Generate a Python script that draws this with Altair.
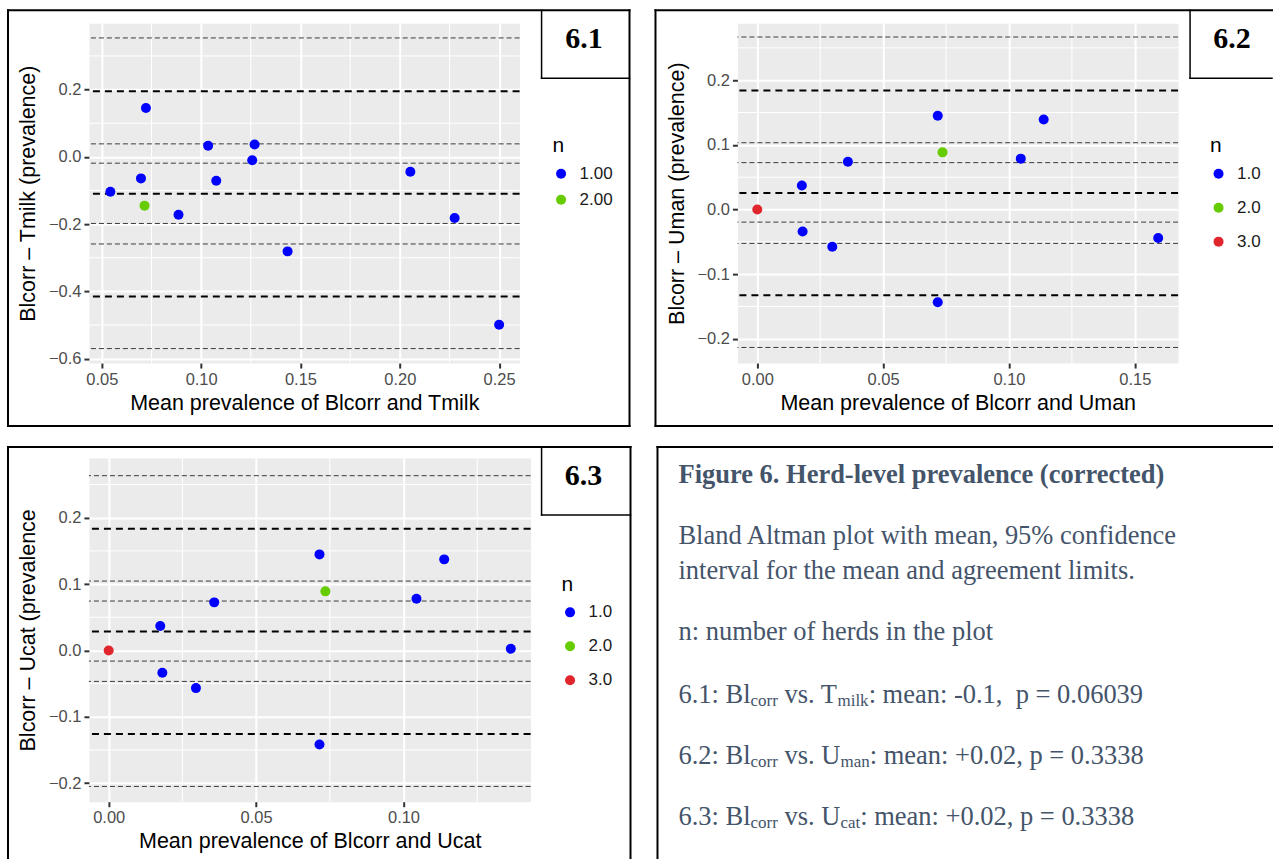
import altair as alt
import pandas as pd

# ---------------- data ----------------
# 6.1  Blcorr vs Tmilk
p1_x = [0.0543, 0.0722, 0.0697, 0.0715, 0.0886, 0.1035, 0.1076, 0.1257, 0.1269, 0.1435, 0.2053, 0.2276, 0.2500]
p1_y = [-0.104, 0.145, -0.064, -0.145, -0.172, 0.033, -0.071, -0.010, 0.037, -0.281, -0.044, -0.182, -0.499]
p1_n = ["1.00", "1.00", "1.00", "2.00", "1.00", "1.00", "1.00", "1.00", "1.00", "1.00", "1.00", "1.00", "1.00"]
p1_limits = [0.195, -0.110, -0.415]                          # mean and agreement limits
p1_ci = [0.3535, 0.0386, -0.0188, -0.198, -0.259, -0.570]    # 95% CI bounds

# 6.2  Blcorr vs Uman
p2_x = [0.0, 0.0177, 0.0180, 0.0298, 0.0360, 0.0717, 0.0736, 0.0717, 0.1047, 0.1138, 0.1593]
p2_y = [0.0, 0.037, -0.034, -0.0576, 0.074, 0.145, 0.0884, -0.1434, 0.0787, 0.1393, -0.0442]
p2_n = ["3.0", "1.0", "1.0", "1.0", "1.0", "1.0", "2.0", "1.0", "1.0", "1.0", "1.0"]
p2_limits = [0.184, 0.0257, -0.1326]
p2_ci = [0.2668, 0.1033, 0.0725, -0.0195, -0.0524, -0.2134]

# 6.3  Blcorr vs Ucat
p3_x = [0.0, 0.0175, 0.0182, 0.0296, 0.0358, 0.0715, 0.0735, 0.0715, 0.1044, 0.1138, 0.1364]
p3_y = [0.0, 0.0367, -0.0337, -0.0568, 0.0724, 0.1447, 0.0890, -0.1417, 0.0779, 0.1372, 0.0025]
p3_n = ["3.0", "1.0", "1.0", "1.0", "1.0", "1.0", "2.0", "1.0", "1.0", "1.0", "1.0"]
p3_limits = [0.1834, 0.0286, -0.1261]
p3_ci = [0.2633, 0.1045, 0.0744, -0.0161, -0.0467, -0.205]

# tick labels / gridlines
p1_xticks = [0.05, 0.10, 0.15, 0.20, 0.25]
p1_yticks = [-0.6, -0.4, -0.2, 0.0, 0.2]
p1_xminor = [0.075, 0.125, 0.175, 0.225]
p1_yminor = [-0.5, -0.3, -0.1, 0.1, 0.3]
p23_yticks = [-0.2, -0.1, 0.0, 0.1, 0.2]
p23_yminor = [-0.15, -0.05, 0.05, 0.15, 0.25]
p2_xticks = [0.0, 0.05, 0.10, 0.15]
p3_xticks = [0.0, 0.05, 0.10]
p23_xminor = [0.025, 0.075, 0.125]

# text panel
fig_title = "Figure 6. Herd-level prevalence (corrected)"
body_lines = ["Bland Altman plot with mean, 95% confidence",
              "interval for the mean and agreement limits.",
              "n: number of herds in the plot"]
stat_lines = [
    [("6.1: Bl", "m"), ("corr", "s"), (" vs. T", "m"), ("milk", "s"), (": mean: -0.1,\u00a0 p = 0.06039", "m")],
    [("6.2: Bl", "m"), ("corr", "s"), (" vs. U", "m"), ("man", "s"), (": mean: +0.02, p = 0.3338", "m")],
    [("6.3: Bl", "m"), ("corr", "s"), (" vs. U", "m"), ("cat", "s"), (": mean: +0.02, p = 0.3338", "m")],
]

# ---------------- style ----------------
BLUE, GREEN, RED = "#0000FF", "#66CC00", "#E0262C"
SANS = "Liberation Sans"
SERIF = "Liberation Serif"
TXT = "#44546A"


def seg(x1, x2, y1, y2, sw=2.0):
    return alt.Chart(pd.DataFrame({"k": [0]})).mark_rule(
        color="black", strokeWidth=sw, strokeCap="square"
    ).encode(x=alt.value(x1), x2=alt.value(x2), y=alt.value(y1), y2=alt.value(y2))


def panel(xs, ys, ns, n_dom, n_rng, limits, ci, xdom, ydom, xticks, yticks, xminor, yminor,
          xtitle, ytitle, w, h, leg_x, leg_y, row_pad, label, lab_x, lab_y, decor):
    xsc = alt.Scale(domain=xdom, nice=False, zero=False)
    ysc = alt.Scale(domain=ydom, nice=False, zero=False)
    xax = alt.Axis(values=xticks, format=".2f", title=xtitle, titleY=40, titleBaseline="middle",
                   labelFlush=False, labelPadding=3)
    yax = alt.Axis(values=yticks, format=".1f", title=ytitle, titleX=-60, titleY=h / 2,
                   titleAngle=270, titleAlign="center", titleBaseline="middle", labelPadding=3)

    def X(f):
        return alt.X(f, type="quantitative", scale=xsc, axis=xax)

    def Y(f):
        return alt.Y(f, type="quantitative", scale=ysc, axis=yax)

    layers = [
        alt.Chart(pd.DataFrame({"v": xminor})).mark_rule(color="white", strokeWidth=1).encode(x=X("v")),
        alt.Chart(pd.DataFrame({"v": yminor})).mark_rule(color="white", strokeWidth=1).encode(y=Y("v")),
        alt.Chart(pd.DataFrame({"v": ci})).mark_rule(color="#3A3A3A", strokeWidth=1, strokeDash=[5, 3]).encode(y=Y("v")),
        alt.Chart(pd.DataFrame({"v": limits})).mark_rule(color="black", strokeWidth=2, strokeDash=[7, 5]).encode(y=Y("v")),
        alt.Chart(pd.DataFrame({"x": xs, "y": ys, "n": ns})).mark_circle(size=100, opacity=1).encode(
            x=X("x"), y=Y("y"),
            color=alt.Color("n:N", scale=alt.Scale(domain=n_dom, range=n_rng),
                            legend=alt.Legend(title="n", orient="none", legendX=leg_x, legendY=leg_y,
                                              rowPadding=row_pad, direction="vertical"))),
    ]
    for d in decor:
        layers.append(seg(*d))
    layers.append(
        alt.Chart(pd.DataFrame({"t": [label]})).mark_text(
            font=SERIF, fontWeight="bold", fontSize=30, align="center", baseline="alphabetic", color="black"
        ).encode(x=alt.value(lab_x), y=alt.value(lab_y), text="t:N")
    )
    return alt.layer(*layers).properties(
        width=w, height=h, view=alt.ViewBackground(fill="#EBEBEB", stroke="transparent"))


p1 = panel(p1_x, p1_y, p1_n, ["1.00", "2.00"], [BLUE, GREEN], p1_limits, p1_ci,
           [0.0435, 0.2603], [-0.613, 0.397], p1_xticks, p1_yticks, p1_xminor, p1_yminor,
           "Mean prevalence of Blcorr and Tmilk", "Blcorr \u2013 Tmilk (prevalence)",
           431, 340, 464, 112, 8, "6.1", 495.5, 25,
           [(-81, 541, -13, -13), (-81, -81, -13, 403), (541, 541, -13, 403), (-81, 541, 403, 403),
            (453, 453, -13, 55, 1.5), (453, 541, 55, 55, 1.5)])

p2 = panel(p2_x, p2_y, p2_n, ["1.0", "2.0", "3.0"], [BLUE, GREEN, RED], p2_limits, p2_ci,
           [-0.0079, 0.1672], [-0.2375, 0.288], p2_xticks, p23_yticks, p23_xminor, p23_yminor,
           "Mean prevalence of Blcorr and Uman", "Blcorr \u2013 Uman (prevalence)",
           441, 340, 473, 112, 16, "6.2", 495, 25,
           [(-82, 535, -13, -13), (-82, -82, -13, 403), (-82, 535, 403, 403),
            (453, 453, -13, 55, 1.5), (453, 535, 55, 55, 1.5)])

p3 = panel(p3_x, p3_y, p3_n, ["1.0", "2.0", "3.0"], [BLUE, GREEN, RED], p3_limits, p3_ci,
           [-0.0067, 0.1431], [-0.228, 0.290], p3_xticks, p23_yticks, p23_xminor, p23_yminor,
           "Mean prevalence of Blcorr and Ucat", "Blcorr \u2013 Ucat (prevalence",
           442, 344, 473, 116, 16, "6.3", 495, 27,
           [(-81, 542, -11, -11), (-81, -81, -11, 401), (542, 542, -11, 401),
            (453, 453, -11, 57, 1.5), (453, 542, 57, 57, 1.5)])

# ---------------- text panel ----------------
TW = {" ": 250, "\u00a0": 250, ".": 250, ":": 278, ",": 250, "-": 333, "+": 564, "=": 564,
      "B": 667, "T": 611, "U": 722, "l": 278, "c": 444, "o": 500, "r": 333, "v": 500, "s": 389,
      "m": 778, "i": 278, "k": 500, "e": 444, "a": 444, "n": 500, "p": 500, "t": 278}


def tw(s, fs):
    return sum(TW.get(c, 500) for c in s) / 1000.0 * fs


# the text panel cell starts 80 px right of its drawn border (grid column position)
OFF = -80
FS_MAIN, FS_SUB = 26.5, 17
X0 = OFF + 21
body_base = [86, 121, 182]
stat_base = [245, 306, 367]

main_rows, sub_rows = [], []
for t, b in zip(body_lines, body_base):
    main_rows.append({"t": t, "x": X0, "y": b})
for segs, b in zip(stat_lines, stat_base):
    cx = X0
    for t, kind in segs:
        fs = FS_MAIN if kind == "m" else FS_SUB
        lead = len(t) - len(t.lstrip(" "))
        shown = t.lstrip(" ")
        row = {"t": shown, "x": cx + tw(" " * lead, fs), "y": b if kind == "m" else b + 3}
        (main_rows if kind == "m" else sub_rows).append(row)
        cx += tw(t, fs)

tx = alt.X("x:Q", scale=None, axis=None)
ty = alt.Y("y:Q", scale=None, axis=None)
txt_title = alt.Chart(pd.DataFrame([{"t": fig_title, "x": X0, "y": 25}])).mark_text(
    font=SERIF, fontWeight="bold", fontSize=26.5, align="left", baseline="alphabetic", color=TXT
).encode(x=tx, y=ty, text="t:N")
txt_main = alt.Chart(pd.DataFrame(main_rows)).mark_text(
    font=SERIF, fontSize=FS_MAIN, align="left", baseline="alphabetic", color=TXT
).encode(x=tx, y=ty, text="t:N")
txt_sub = alt.Chart(pd.DataFrame(sub_rows)).mark_text(
    font=SERIF, fontSize=FS_SUB, align="left", baseline="alphabetic", color=TXT
).encode(x=tx, y=ty, text="t:N")

txt_panel = alt.layer(
    txt_title, txt_main, txt_sub,
    seg(OFF, OFF, -11, 401), seg(OFF, 535, -11, -11),
).properties(width=535, height=399, view=alt.ViewBackground(fill="white", stroke="transparent"))

chart = alt.concat(
    p1, p2, p3, txt_panel, columns=2, bounds="flush",
    spacing={"row": 95, "column": 207},
).resolve_scale(
    color="independent", x="independent", y="independent"
).resolve_legend(color="independent").properties(
    padding={"left": 6, "top": 8, "right": 0, "bottom": 0}, background="white"
).configure(font=SANS).configure_axis(
    domain=False, tickColor="#333333", tickWidth=2, tickSize=5,
    labelColor="#4D4D4D", labelFontSize=16.5, labelFont=SANS,
    titleFont=SANS, titleFontSize=21.5, titleFontWeight="normal", titleColor="black",
    gridColor="white", gridWidth=2, gridOpacity=1,
).configure_legend(
    titleFont=SANS, titleFontSize=21, titleFontWeight="normal", titleColor="black",
    labelFont=SANS, labelFontSize=17, labelColor="#1A1A1A", symbolType="circle",
    symbolSize=100, symbolStrokeWidth=0, labelOffset=10, titlePadding=9,
).configure_view(stroke="transparent")

chart.save("out.html", embed_options={"renderer": "svg", "actions": False})
